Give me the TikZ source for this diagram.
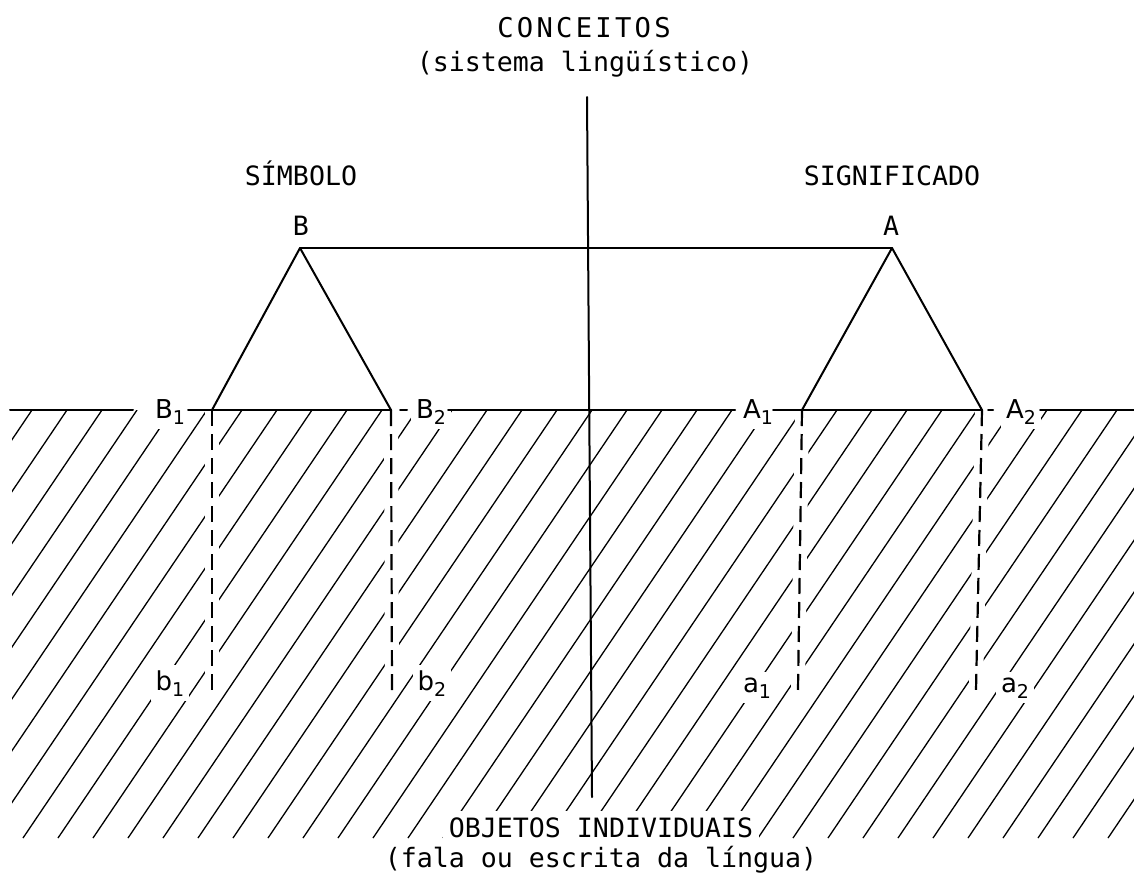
\documentclass[tikz,border=0pt]{standalone}
\usepackage{fontspec}
\newfontfamily\twfont{DejaVu Sans Mono}
\newfontfamily\lbfont{DejaVu Sans}
\newcommand{\lblsub}[2]{#1\raisebox{-0.45ex}{\fontsize{9.5}{9.5}\selectfont #2}}
\begin{document}
\begin{tikzpicture}[x=0.5pt,y=-0.5pt,
  mainline/.style={line width=1pt, line cap=round, line join=round},
  hatchline/.style={line width=0.65pt},
  dashline/.style={line width=1.1pt, dash pattern=on 8pt off 4pt,
     preaction={draw=white, solid, line width=7pt}},
  title/.style={font=\twfont\fontsize{13.6}{16}\selectfont, anchor=base, inner sep=0pt},
  capt/.style={font=\twfont\fontsize{13.3}{16}\selectfont, anchor=base, inner sep=0pt},
  sublbl/.style={font=\lbfont\fontsize{13}{15}\selectfont, anchor=base, fill=white, inner sep=2.5pt},
]
\useasboundingbox (0,0) rectangle (1134,874);
\fill[white] (0,0) rectangle (1134,874);

% hatching of the lower region
\begin{scope}
  \clip (12,410) rectangle (1134,838);
  \foreach \k in {-12,...,27}
    \draw[hatchline] ({452+35*\k},410) -- ({452+35*\k-289},838);
\end{scope}

% texts
\node[title] (conc) at (584,37) {\addfontfeature{LetterSpace=12}CONCEITOS};
\node[capt] (sist) at (585,71) {(sistema lingüístico)};
\node[capt] (simb) at (301,185) {SÍMBOLO};
\node[capt] (sign) at (892,185) {SIGNIFICADO};
\node[capt] (lB) at (301,235) {B};
\node[capt] (lA) at (891,235) {A};
\node[capt, fill=white, inner sep=3pt] (obj) at (601,837) {OBJETOS INDIVIDUAIS};
\node[capt] (fala) at (601,867) {(fala ou escrita da língua)};

% labels on the ground line and below
\node[sublbl] (B1) at (170,418) {\lblsub{B}{1}};
\node[sublbl] (B2) at (431,418) {\lblsub{B}{2}};
\node[sublbl] (A1) at (758,418) {\lblsub{A}{1}};
\node[sublbl] (A2) at (1021,418) {\lblsub{A}{2}};
\node[sublbl] (b1) at (170,690) {\lblsub{b}{1}};
\node[sublbl] (b2) at (432,690) {\lblsub{b}{2}};
\node[sublbl] (a1) at (757,692) {\lblsub{a}{1}};
\node[sublbl] (a2) at (1015,692) {\lblsub{a}{2}};

% key points
\coordinate (pB) at (300,248);
\coordinate (pA) at (892,248);
\coordinate (pB1) at (212,410);
\coordinate (pB2) at (391,410);
\coordinate (pA1) at (802,410);
\coordinate (pA2) at (982,410);
\coordinate (qB1) at (212,690);
\coordinate (qB2) at (392,690);
\coordinate (qA1) at (798,690);
\coordinate (qA2) at (976,690);
\coordinate (vtop) at (587,97);
\coordinate (vbot) at (592,797);
\coordinate (h1a) at (10,410);
\coordinate (h1b) at (133,410);
\coordinate (h2a) at (188,410);
\coordinate (h3a) at (400,410);
\coordinate (h3b) at (407,410);
\coordinate (h4a) at (448,410);
\coordinate (h4b) at (735,410);
\coordinate (h5a) at (773,410);
\coordinate (h6a) at (988,410);
\coordinate (h6b) at (993,410);
\coordinate (h7a) at (1040,410);
\coordinate (h7b) at (1134,410);

% dashed verticals
\draw[dashline] (pB1) -- (qB1);
\draw[dashline] (pB2) -- (qB2);
\draw[dashline] (pA1) -- (qA1);
\draw[dashline] (pA2) -- (qA2);

% ground line segments
\draw[mainline] (h1a) -- (h1b);
\draw[mainline] (h2a) -- (pB1) -- (pB2);
\draw[mainline] (h3a) -- (h3b);
\draw[mainline] (h4a) -- (h4b);
\draw[mainline] (h5a) -- (pA1) -- (pA2);
\draw[mainline] (h6a) -- (h6b);
\draw[mainline] (h7a) -- (h7b);

% triangles and top line
\draw[mainline] (pB1) -- (pB) -- (pB2);
\draw[mainline] (pA1) -- (pA) -- (pA2);
\draw[mainline] (pB) -- (pA);

% central vertical line
\draw[mainline] (vtop) -- (vbot);
\end{tikzpicture}
\end{document}
